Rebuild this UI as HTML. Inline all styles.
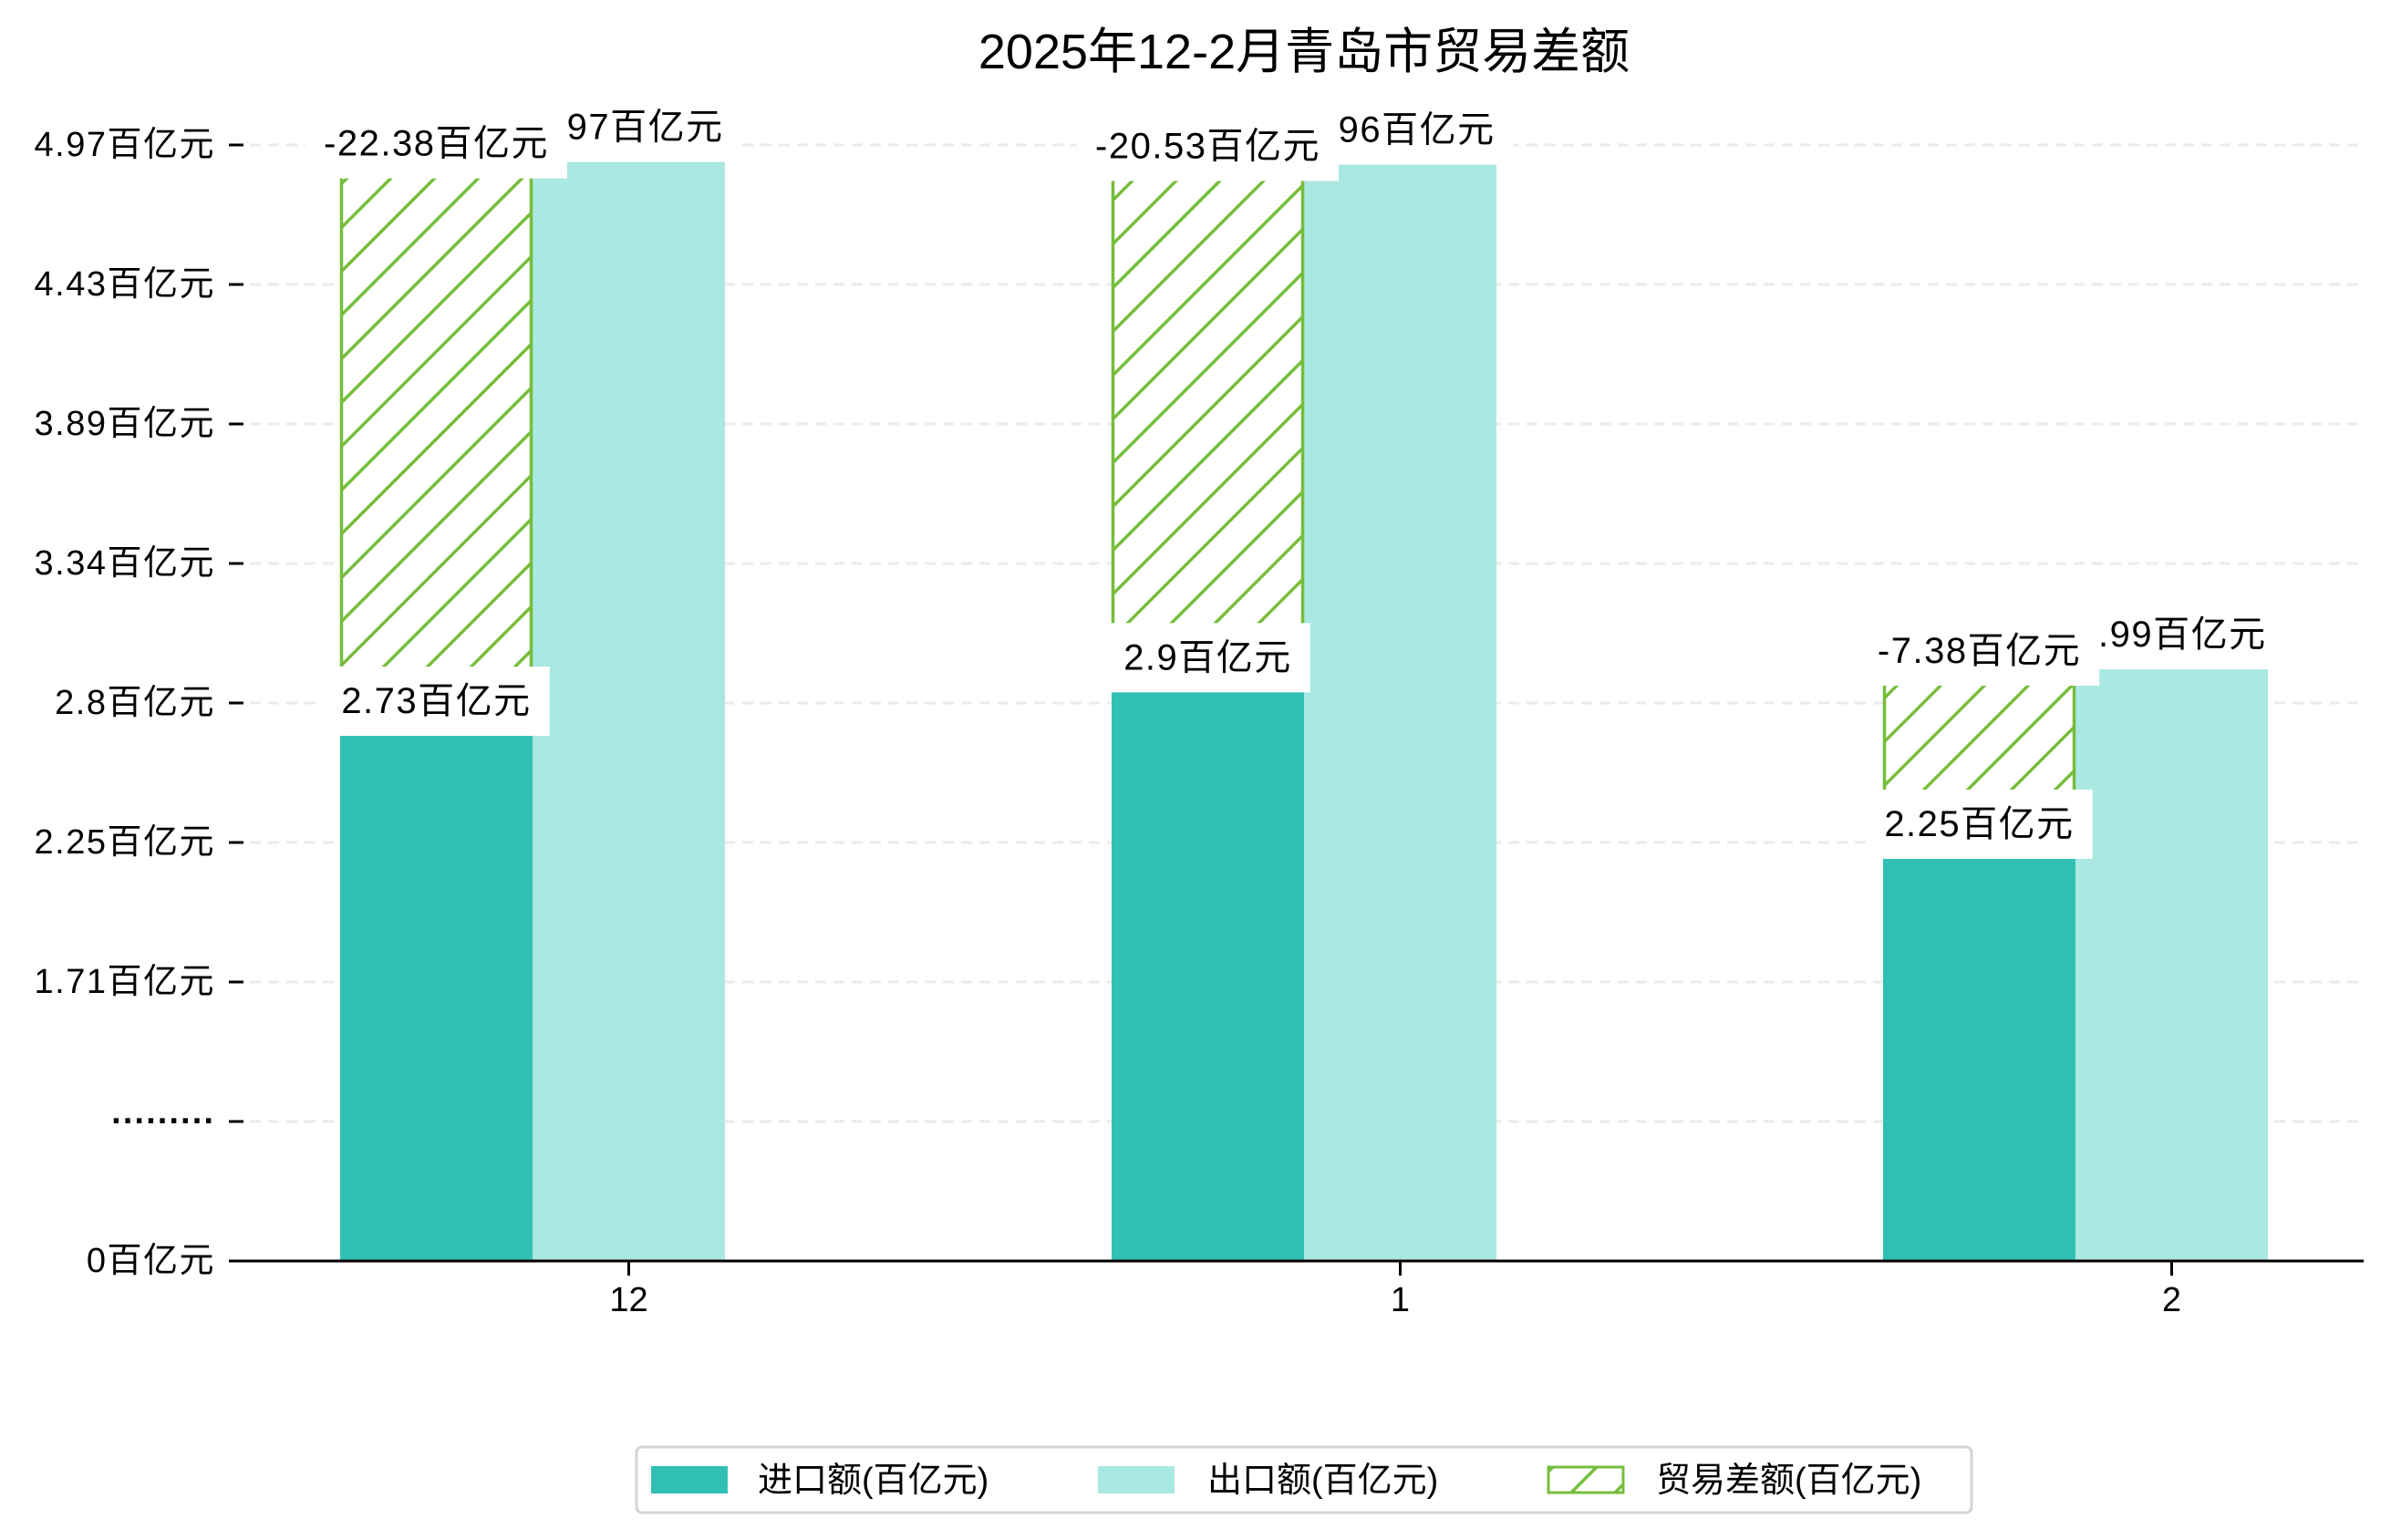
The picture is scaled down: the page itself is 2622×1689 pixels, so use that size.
<!DOCTYPE html>
<html><head><meta charset="utf-8">
<style>
html,body{margin:0;padding:0;background:#fff;}
svg{display:block;font-family:"Liberation Sans","Noto Sans CJK SC",sans-serif;}
</style></head>
<body>
<svg id="chart" width="2622" height="1689" viewBox="0 0 2622 1689" xmlns="http://www.w3.org/2000/svg">
<defs>
<pattern id="hatch" patternUnits="userSpaceOnUse" width="48" height="48">
<rect width="48" height="48" fill="#fff"/>
<path d="M-6,54 L54,-6 M-12,12 L12,-12 M36,60 L60,36" stroke="#76bd3c" stroke-width="3.5"/>
</pattern>
</defs>
<text x="1430" y="57" font-size="54" text-anchor="middle" dominant-baseline="central" fill="#000">2025年12-2月青岛市贸易差额</text>
<g id="grid"></g>
<g id="bars"></g>
<g id="labels"></g>
<g id="axes"></g>
<g>
<rect x="698" y="1587" width="1464" height="72" rx="6" fill="#fff" stroke="#d4d4d4" stroke-width="3"/>
<g>
<rect x="714" y="1608" width="84" height="30" fill="#31c0b3"/>
<text x="831" y="1624" font-size="38" dominant-baseline="central">进口额(百亿元)</text>
</g>
<g>
<rect x="1204" y="1608" width="84" height="30" fill="#aae8e2"/>
<text x="1324" y="1624" font-size="38" dominant-baseline="central">出口额(百亿元)</text>
</g>
<g>
<rect x="1698" y="1609" width="82" height="28" fill="url(#hatch)" stroke="#76bd3c" stroke-width="3"/>
<text x="1816" y="1624" font-size="38" dominant-baseline="central">贸易差额(百亿元)</text>
</g>
</g>
</svg>
<script>
const categories = ["12", "1", "2"];
const importValues = [2.73, 2.9, 2.25];
const exportValues = [4.97, 4.96, 2.99];
const balanceValues = [-22.38, -20.53, -7.38];
const tickLabels = ["0百亿元", "·········", "1.71百亿元", "2.25百亿元", "2.8百亿元", "3.34百亿元", "3.89百亿元", "4.43百亿元", "4.97百亿元"];

const NS = "http://www.w3.org/2000/svg";
const gGrid = document.getElementById("grid");
const gBars = document.getElementById("bars");
const gLabels = document.getElementById("labels");
const gAxes = document.getElementById("axes");
const baseY = 1383, axL = 254, axR = 2592;
const k = 281, vRef = 2.25, yRef = 941;
function yScale(v){ return yRef - (v - vRef) * k; }
function tickY(i){ return baseY - i * 153; }
const barW = 211, groupStep = 846, firstLeft = 373;
function xImport(i){ return firstLeft + i * groupStep; }
function xExport(i){ return xImport(i) + barW; }
function mk(tag, attrs, parent){
  const e = document.createElementNS(NS, tag);
  for (const a in attrs) e.setAttribute(a, attrs[a]);
  parent.appendChild(e);
  return e;
}
function fmt(v){ return v + "百亿元"; }

tickLabels.forEach((lab, i) => {
  const y = tickY(i);
  if (i > 0) {
    const gl = mk("line", {x1: axL, x2: axR, y1: y, y2: y, stroke: "#ebebeb", "stroke-width": 3, "stroke-dasharray": "12,8"}, gGrid);
    
    
  }
  const tm = mk("line", {x1: 251, x2: 267, y1: y, y2: y, stroke: "#000", "stroke-width": 3}, gAxes);
  
  
  const t = mk("text", {x: 236, y: y, "font-size": 38, "text-anchor": "end", "dominant-baseline": "central", "letter-spacing": (i === 1 ? "0" : "1.5")}, gAxes);
  t.textContent = lab;
  if (i === 1) t.setAttribute("font-weight", "bold");
  
  
});

categories.forEach((c, i) => {
  const yi = yScale(importValues[i]);
  const ye = yScale(exportValues[i]);
  const bi = mk("rect", {x: xImport(i), y: yi, width: barW, height: baseY - yi, fill: "#31c0b3"}, gBars);
  
  
  const be = mk("rect", {x: xExport(i), y: ye, width: barW, height: baseY - ye, fill: "#aae8e2"}, gBars);
  
  
  const bh = mk("rect", {x: xImport(i), y: ye, width: barW, height: yi - ye, fill: "url(#hatch)"}, gBars);
  
  
  const l1 = mk("line", {x1: xImport(i) + 1.5, x2: xImport(i) + 1.5, y1: ye, y2: yi, stroke: "#76bd3c", "stroke-width": 3.5}, gBars);
  
  
  const l2 = mk("line", {x1: xExport(i) - 1.5, x2: xExport(i) - 1.5, y1: ye, y2: yi, stroke: "#76bd3c", "stroke-width": 3.5}, gBars);
  
  
});

function label(cx, cy, txt, name){
  const g = mk("g", {}, gLabels);
  
  
  const r = mk("rect", {fill: "#fff"}, g);
  const t = mk("text", {x: cx, y: cy, "font-size": 40, "text-anchor": "middle", "dominant-baseline": "central", "letter-spacing": "1.5"}, g);
  t.textContent = txt;
  const w = t.getComputedTextLength();
  r.setAttribute("x", cx - w / 2 - 20);
  r.setAttribute("y", cy - 38);
  r.setAttribute("width", w + 40);
  r.setAttribute("height", 76);
}
categories.forEach((c, i) => {
  const ye = yScale(exportValues[i]);
  label(xExport(i) + barW / 2, ye - 37, fmt(exportValues[i]), 'export-value-label');
  label(xImport(i) + barW / 2, ye - 19, fmt(balanceValues[i]), 'balance-value-label');
  const yi = yScale(importValues[i]);
  label(xImport(i) + barW / 2, yi - 37, fmt(importValues[i]), 'import-value-label');
});

const sp = mk("line", {x1: axL, x2: axR, y1: baseY, y2: baseY, stroke: "#000", "stroke-width": 3}, gAxes);


categories.forEach((c, i) => {
  const x = xExport(i) + barW / 2;
  const tk = mk("line", {x1: x, x2: x, y1: baseY, y2: baseY + 16, stroke: "#000", "stroke-width": 3}, gAxes);
  
  
  const t = mk("text", {x: x, y: 1426, "font-size": 38, "text-anchor": "middle", "dominant-baseline": "central"}, gAxes);
  t.textContent = c;
  
  
});
</script>
</body></html>
